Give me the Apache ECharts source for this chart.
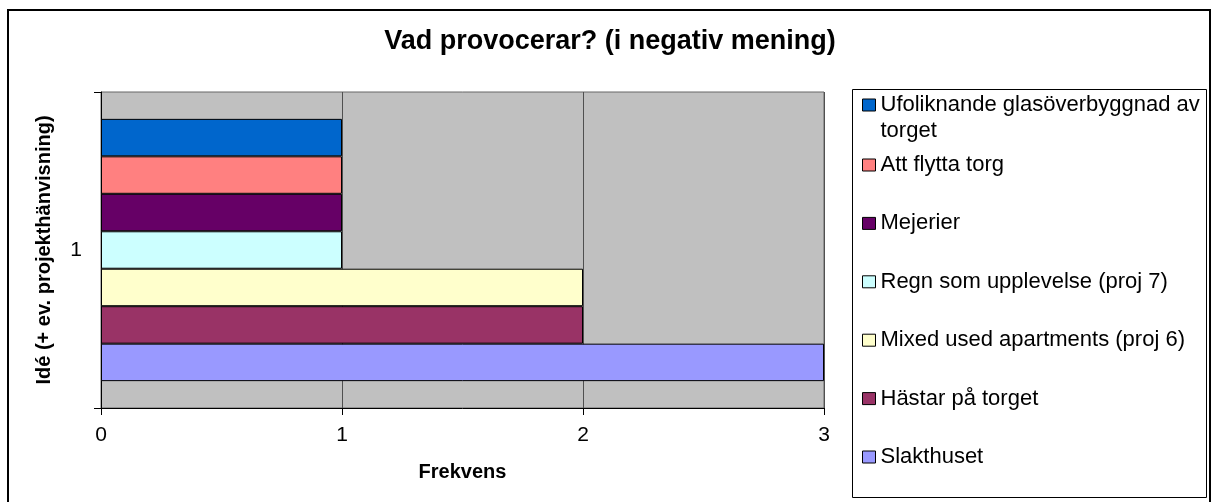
<!DOCTYPE html>
<html>
<head>
<meta charset="utf-8">
<script src="https://cdn.jsdelivr.net/npm/echarts@6/dist/echarts.min.js"></script>
<style>
  html, body { margin: 0; padding: 0; background: #fff; }
  #main { width: 1215px; height: 502px; }
</style>
</head>
<body>
<div id="main"></div>
<script>
const categories = ['1'];
const seriesNames = [
  'Ufoliknande glasöverbyggnad av torget',
  'Att flytta torg',
  'Mejerier',
  'Regn som upplevelse (proj 7)',
  'Mixed used apartments (proj 6)',
  'Hästar på torget',
  'Slakthuset'
];
const seriesValues = [[1], [1], [1], [1], [2], [2], [3]];
const seriesColors = ['#0066CC', '#FF8080', '#660066', '#CCFFFF', '#FFFFCC', '#993366', '#9999FF'];
const xTicks = [0, 1, 2, 3];

const font = "'Liberation Sans', Arial, sans-serif";

const chart = echarts.init(document.getElementById('main'));

// first series ends up on top, same as the legend order
const series = seriesNames.map((name, i) => ({
  name: name,
  type: 'bar',
  data: seriesValues[i],
  barGap: '0%',
  barCategoryGap: '17%',
  itemStyle: { color: seriesColors[i], borderColor: '#000', borderWidth: 1 }
}));

const legendBase = {
  orient: 'vertical',
  left: 862,
  padding: 0,
  icon: 'rect',
  itemWidth: 13,
  itemHeight: 12,
  selectedMode: false,
  itemStyle: { borderColor: '#000', borderWidth: 1 },
  textStyle: { fontFamily: font, fontSize: 22, color: '#000', lineHeight: 24 }
};

chart.setOption({
  animation: false,
  backgroundColor: '#fff',
  title: {
    text: 'Vad provocerar? (i negativ mening)',
    left: 610,
    top: 28,
    textAlign: 'center',
    padding: 0,
    textStyle: { fontFamily: font, fontSize: 27, fontWeight: 'bold', color: '#000' }
  },
  legend: [
    // wrapped entry: blank first line keeps the marker level with the first text line
    Object.assign({}, legendBase, {
      top: 66,
      data: [seriesNames[0]],
      formatter: n => '\u00a0\n' + n.replace(' av torget', ' av\ntorget'),
      textStyle: Object.assign({}, legendBase.textStyle, { lineHeight: 26 })
    }),
    Object.assign({}, legendBase, {
      top: 153,
      itemGap: 34.4,
      data: seriesNames.slice(1)
    })
  ],
  grid: {
    left: 101, top: 92, width: 723, height: 316,
    show: true, backgroundColor: '#C0C0C0', borderColor: '#666', borderWidth: 1
  },
  xAxis: {
    type: 'value',
    min: xTicks[0], max: xTicks[xTicks.length - 1], interval: 1,
    name: 'Frekvens',
    nameLocation: 'middle',
    nameGap: 54,
    nameTextStyle: { fontFamily: font, fontSize: 20, fontWeight: 'bold', color: '#000' },
    axisLine: { show: true, lineStyle: { color: '#000', width: 1 } },
    axisTick: { show: true, length: 7, lineStyle: { color: '#000' } },
    axisLabel: { fontFamily: font, fontSize: 21, color: '#000', margin: 17 },
    splitLine: { show: true, lineStyle: { color: '#505050', width: 1 } }
  },
  yAxis: {
    type: 'category',
    data: categories,
    name: 'Idé (+ ev. projekthänvisning)',
    nameLocation: 'middle',
    nameRotate: 90,
    nameGap: 47,
    nameTextStyle: { fontFamily: font, fontSize: 20, fontWeight: 'bold', color: '#000' },
    axisLine: { show: true, lineStyle: { color: '#000', width: 1 } },
    axisTick: { show: true, length: 7, lineStyle: { color: '#000' } },
    axisLabel: { fontFamily: font, fontSize: 21, color: '#000', margin: 19 },
    splitLine: { show: false }
  },
  graphic: [
    { type: 'rect', silent: true, shape: { x: 8, y: 10, width: 1202, height: 500 },
      style: { fill: null, stroke: '#000', lineWidth: 2 } },
    { type: 'rect', silent: true, shape: { x: 852.5, y: 89.5, width: 354, height: 408 },
      style: { fill: null, stroke: '#000', lineWidth: 1 } }
  ],
  series: series
});
</script>
</body>
</html>
